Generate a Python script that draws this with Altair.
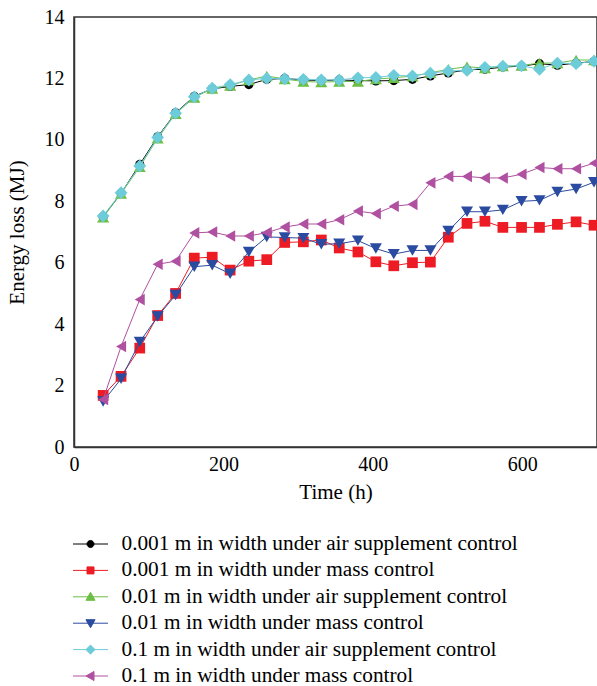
import altair as alt
import pandas as pd

times = [39, 63, 88, 112, 136, 161, 185, 209, 234, 258, 282, 307, 331, 355,
         380, 404, 428, 453, 477, 501, 526, 550, 574, 599, 623, 647, 672, 696]

names = [
    "0.001 m in width under air supplement control",
    "0.001 m in width under mass control",
    "0.01 m in width under air supplement control",
    "0.01 m in width under mass control",
    "0.1 m in width under air supplement control",
    "0.1 m in width under mass control",
]

s_0001_air = [7.50, 8.26, 9.20, 10.10, 10.88, 11.42, 11.66, 11.74, 11.80, 11.97, 12.00, 11.95, 11.93, 11.95,
              11.93, 11.92, 11.93, 11.97, 12.08, 12.18, 12.28, 12.30, 12.37, 12.40, 12.48, 12.43, 12.50, 12.55]
s_0001_mass = [1.68, 2.30, 3.22, 4.28, 5.00, 6.15, 6.18, 5.76, 6.05, 6.10, 6.66, 6.68, 6.74, 6.48,
               6.35, 6.03, 5.90, 6.00, 6.02, 6.83, 7.28, 7.35, 7.15, 7.15, 7.15, 7.25, 7.33, 7.22]
s_001_air = [7.48, 8.25, 9.12, 10.05, 10.85, 11.38, 11.67, 11.77, 11.95, 12.08, 11.98, 11.90, 11.88, 11.90,
             11.90, 11.98, 12.02, 12.08, 12.18, 12.30, 12.38, 12.34, 12.40, 12.42, 12.50, 12.50, 12.60, 12.60]
s_001_mass = [1.48, 2.22, 3.42, 4.25, 4.95, 5.87, 5.92, 5.64, 6.35, 6.84, 6.82, 6.80, 6.60, 6.62,
              6.72, 6.46, 6.28, 6.40, 6.40, 7.03, 7.66, 7.66, 7.72, 8.00, 8.03, 8.30, 8.40, 8.62]
s_01_air = [7.52, 8.28, 9.15, 10.08, 10.87, 11.40, 11.68, 11.80, 11.95, 12.00, 11.99, 11.97, 11.95, 11.95,
            12.02, 12.03, 12.10, 12.08, 12.17, 12.24, 12.26, 12.36, 12.40, 12.41, 12.30, 12.50, 12.48, 12.56]
s_01_mass = [1.55, 3.27, 4.80, 5.95, 6.05, 6.97, 7.00, 6.87, 6.87, 6.98, 7.16, 7.26, 7.26, 7.40,
             7.68, 7.60, 7.84, 7.90, 8.60, 8.81, 8.81, 8.76, 8.76, 8.88, 9.10, 9.06, 9.06, 9.24]

series_values = [s_0001_air, s_0001_mass, s_001_air, s_001_mass, s_01_air, s_01_mass]
colors = ["#000000", "#ED1C24", "#6DBE45", "#2B4BA0", "#6DCCD9", "#B050A0"]
shapes = ["circle", "square", "triangle-up", "triangle-down", "diamond", "triangle-left"]
sizes = [85, 115, 145, 145, 165, 135]
legend_paths = [
    "M-1,0H1M0.2,0A0.2,0.2,0,1,1,-0.2,0A0.2,0.2,0,1,1,0.2,0Z",
    "M-1,0H1M-0.2,-0.2H0.2V0.2H-0.2Z",
    "M-1,0H1M0,-0.26L0.26,0.2H-0.26Z",
    "M-1,0H1M0,0.26L0.26,-0.2H-0.26Z",
    "M-1,0H1M0,-0.26L0.26,0L0,0.26L-0.26,0Z",
    "M-1,0H1M-0.26,0L0.2,-0.26V0.26Z",
]

rows = []
for name, vals in zip(names, series_values):
    for t, v in zip(times, vals):
        rows.append({"series": name, "time": t, "value": v})
df = pd.DataFrame(rows)

FONT = "Liberation Serif"

xenc = alt.X("time:Q", scale=alt.Scale(domain=[0, 700], nice=False),
             axis=alt.Axis(title="Time (h)", values=[0, 200, 400, 600], grid=False, ticks=False,
                           labelFlush=False, labelPadding=7, titlePadding=7))
yenc = alt.Y("value:Q", scale=alt.Scale(domain=[0, 14], nice=False),
             axis=alt.Axis(title="Energy loss (MJ)", values=list(range(0, 15, 2)), grid=False, ticks=False,
                           labelFlush=False, labelPadding=10, titlePadding=17))

layers = []
for name, col, shp, sz in zip(names, colors, shapes, sizes):
    sub = df[df["series"] == name]
    layers.append(alt.Chart(sub).mark_line(color=col, strokeWidth=1).encode(x=xenc, y=yenc))
    layers.append(alt.Chart(sub).mark_point(color=col, shape=shp, size=sz, filled=True, opacity=1)
                  .encode(x=xenc, y=yenc))

# legend-only layer: no rows survive the filter, legend comes from the explicit domain
legend_layer = alt.Chart(df).transform_filter(alt.datum.value < -1000).mark_point(
    filled=True, opacity=1, fillOpacity=1, strokeOpacity=1).encode(
    x=xenc, y=yenc,
    fill=alt.Fill("series:N", scale=alt.Scale(domain=names, range=colors),
                  legend=alt.Legend(title=None, orient="none", legendX=-1.5, legendY=517,
                                    direction="vertical", symbolSize=1225, symbolStrokeWidth=1,
                                    symbolOpacity=1, labelOffset=13, labelFont=FONT, labelFontSize=21.3,
                                    labelColor="#000000", labelLimit=800, rowPadding=4.4, padding=0,
                                    clipHeight=20)),
    shape=alt.Shape("series:N", scale=alt.Scale(domain=names, range=legend_paths)),
    stroke=alt.Stroke("series:N", scale=alt.Scale(domain=names, range=colors)),
)

chart = alt.layer(*layers, legend_layer).properties(
    width=523, height=430,
    autosize=alt.AutoSizeParams(type="none"),
    padding={"left": 74, "top": 17, "right": 0, "bottom": 239},
    background="white",
).configure_view(stroke="#333333", strokeWidth=1.5).configure_axis(
    domainColor="#333333", domainWidth=1.5, labelFont=FONT, titleFont=FONT,
    labelFontSize=20, titleFontSize=21, labelColor="#000000", titleColor="#000000",
    titleFontWeight="normal",
)

chart.save("out.html", embed_options={"renderer": "svg", "actions": False})
